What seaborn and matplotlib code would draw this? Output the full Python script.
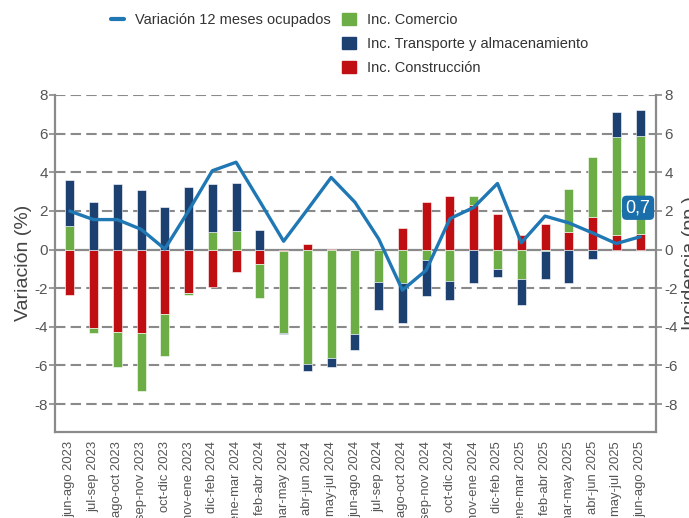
import matplotlib
matplotlib.use("Agg")
import matplotlib.pyplot as plt
import seaborn as sns
import numpy as np
import pandas as pd
from matplotlib.patches import Patch
from matplotlib.lines import Line2D

categories = ["jun-ago 2023", "jul-sep 2023", "ago-oct 2023", "sep-nov 2023", "oct-dic 2023",
              "nov-ene 2023", "dic-feb 2024", "ene-mar 2024", "feb-abr 2024", "mar-may 2024",
              "abr-jun 2024", "may-jul 2024", "jun-ago 2024", "jul-sep 2024", "ago-oct 2024",
              "sep-nov 2024", "oct-dic 2024", "nov-ene 2024", "dic-feb 2025", "ene-mar 2025",
              "feb-abr 2025", "mar-may 2025", "abr-jun 2025", "may-jul 2025", "jun-ago 2025"]

construccion = [-2.37, -4.06, -4.25, -4.32, -3.35, -2.25, -1.92, -1.16, -0.76, -0.10,
                0.31, 0.05, 0.0, 0.0, 1.10, 2.44, 2.75, 2.28, 1.83, 0.76,
                1.31, 0.90, 1.69, 0.73, 0.79]
comercio = [1.23, -0.28, -1.83, -2.98, -2.14, -0.08, 0.90, 0.98, -1.74, -4.23,
            -5.92, -5.61, -4.37, -1.69, -1.73, -0.55, -1.64, 0.48, -1.00, -1.50,
            -0.08, 2.23, 3.08, 5.07, 5.08]
transporte = [2.36, 2.44, 3.37, 3.09, 2.21, 3.26, 2.49, 2.46, 1.02, -0.06,
              -0.38, -0.49, -0.83, -1.42, -2.07, -1.83, -0.95, -1.74, -0.42, -1.37,
              -1.47, -1.74, -0.50, 1.30, 1.35]
variacion = [1.99, 1.55, 1.55, 1.05, 0.03, 2.0, 4.08, 4.52, 2.49, 0.43,
             2.07, 3.73, 2.45, 0.55, -2.1, -1.07, 1.6, 2.18, 3.42, 0.35,
             1.73, 1.38, 0.86, 0.31, 0.66]
yticks = [-8, -6, -4, -2, 0, 2, 4, 6, 8]
last_label = "0,7"

C_GREEN = "#6cad45"
C_BLUE = "#1c4170"
C_RED = "#c00f13"
C_LINE = "#1f77b4"
GRID = "#8a8a8a"
TXT = "#555555"

sns.set_theme(style="white")
plt.rcParams['font.family'] = ['Liberation Sans', 'DejaVu Sans']

fig = plt.figure(figsize=(6.89, 5.18), dpi=100)
ax = fig.add_axes([55/689, 1 - 431.5/518, (656-55)/689, (431.5-95)/518])

x = np.arange(len(categories))
pos = np.zeros(len(categories))
neg = np.zeros(len(categories))
for vals, col in [(construccion, C_RED), (comercio, C_GREEN), (transporte, C_BLUE)]:
    v = np.array(vals)
    bottom = np.where(v >= 0, pos, neg)
    ax.bar(x, v, bottom=bottom, width=0.38, color=col, edgecolor="white",
           linewidth=0.4, zorder=3)
    pos = pos + np.where(v >= 0, v, 0)
    neg = neg + np.where(v < 0, v, 0)

df = pd.DataFrame({"x": x, "v": variacion})
sns.lineplot(data=df, x="x", y="v", ax=ax, color=C_LINE, linewidth=2.4, zorder=5,
             legend=False)

ax.set_xlim(-0.62, 24.67)
ax.set_ylim(-9.42, 8)
ax.set_yticks(yticks)
ax.set_yticklabels([str(t) for t in yticks])
for t in yticks:
    if t == 0:
        ax.axhline(t, color=GRID, lw=1.6, zorder=2)
    else:
        ax.axhline(t, color=GRID, lw=1.5, ls=(0, (5, 2.5)), zorder=1)

ax.set_xticks(x)
ax.set_xticklabels(categories, rotation=90, fontsize=9.4, color=TXT)
ax.tick_params(axis="x", length=4, width=1, color="#555555", pad=3)
ax.tick_params(axis="y", length=4, width=1.2, color=GRID, labelsize=11, labelcolor=TXT, pad=1)
ax.set_xlabel("")
ax.set_ylabel("Variación (%)", fontsize=14, color="#444444", labelpad=2)

ax.spines["top"].set_visible(False)
for s in ["left", "right", "bottom"]:
    ax.spines[s].set_color(GRID)
    ax.spines[s].set_linewidth(1.6)
ax.spines["right"].set_visible(False)

ax2 = ax.twinx()
ax2.set_ylim(-9.42, 8)
ax2.set_yticks(yticks)
ax2.set_yticklabels([str(t) for t in yticks])
ax2.tick_params(axis="y", length=4, width=1.2, color=GRID, labelsize=11, labelcolor=TXT, pad=2)
ax2.set_ylabel("Incidencia (pp.)", fontsize=14, color="#444444", rotation=90, labelpad=3)
ax2.yaxis.set_label_position("right")
ax2.grid(False)
for s in ["top", "left", "bottom"]:
    ax2.spines[s].set_visible(False)
ax2.spines["right"].set_color(GRID)
ax2.spines["right"].set_linewidth(1.6)

ax.annotate(last_label, xy=(x[-1], variacion[-1]), xytext=(-2, 29),
            textcoords="offset pixels", ha="center", va="center",
            fontsize=13, color="white", zorder=10,
            bbox=dict(boxstyle="round,pad=0.2,rounding_size=0.25", fc="#1a6fab", ec="none"))

handles = [Line2D([0], [0], color=C_LINE, lw=3),
           Patch(color="none"), Patch(color="none"),
           Patch(color=C_GREEN), Patch(color=C_BLUE), Patch(color=C_RED)]
labels = ["Variación 12 meses ocupados", "", "",
          "Inc. Comercio", "Inc. Transporte y almacenamiento", "Inc. Construcción"]
leg = fig.legend(handles, labels, ncol=2, loc="upper left",
                 bbox_to_anchor=(111/689, 1 - 13/518), frameon=False,
                 fontsize=10.5, labelcolor="#333333", handlelength=0.9, handleheight=0.9,
                 handletextpad=0.75, columnspacing=0.8, labelspacing=0.68,
                 borderpad=0, borderaxespad=0)

fig.savefig("out.png", dpi=100)
